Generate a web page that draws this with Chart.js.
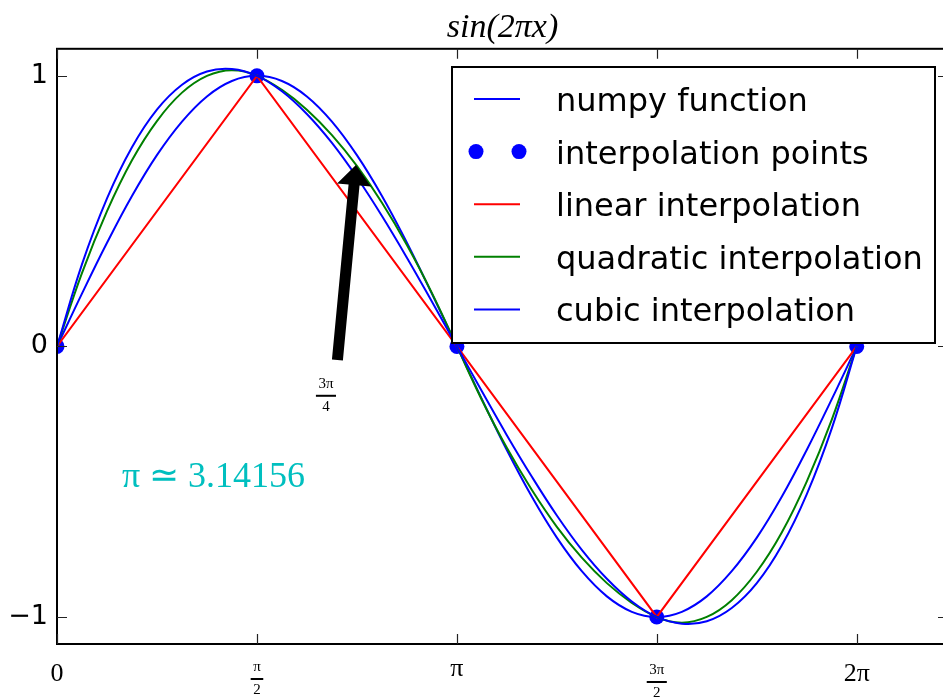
<!DOCTYPE html>
<html>
<head>
<meta charset="utf-8">
<script src="https://cdn.jsdelivr.net/npm/chart.js@4.4.0/dist/chart.umd.min.js"></script>
<style>
  html, body { margin: 0; padding: 0; background: #fff; overflow: hidden; }
  #wrap { width: 948px; height: 698px; position: relative; }
</style>
</head>
<body>
<div id="wrap"><canvas id="grafico" width="948" height="698"></canvas></div>
<script>
//CURVE SAMPLES (x in radians, read every pi/16)
const xCurve = [0, 0.196, 0.393, 0.589, 0.785, 0.982, 1.178, 1.374, 1.571, 1.767, 1.963, 2.160, 2.356, 2.553, 2.749, 2.945,
  3.142, 3.338, 3.534, 3.731, 3.927, 4.123, 4.320, 4.516, 4.712, 4.909, 5.105, 5.301, 5.498, 5.694, 5.890, 6.087, 6.283];
const yNumpy = [0, 0.195, 0.383, 0.556, 0.707, 0.831, 0.924, 0.981, 1, 0.981, 0.924, 0.831, 0.707, 0.556, 0.383, 0.195,
  0, -0.195, -0.383, -0.556, -0.707, -0.831, -0.924, -0.981, -1, -0.981, -0.924, -0.831, -0.707, -0.556, -0.383, -0.195, 0];
const yQuadratic = [0, 0.271, 0.5, 0.688, 0.833, 0.938, 1.0, 1.021, 1, 0.948, 0.875, 0.781, 0.667, 0.531, 0.375, 0.198,
  0, -0.198, -0.375, -0.531, -0.667, -0.781, -0.875, -0.948, -1, -1.021, -1.0, -0.938, -0.833, -0.688, -0.5, -0.271, 0];
const yCubic = [0, 0.303, 0.547, 0.736, 0.875, 0.967, 1.016, 1.025, 1, 0.943, 0.859, 0.752, 0.625, 0.482, 0.328, 0.166,
  0, -0.166, -0.328, -0.482, -0.625, -0.752, -0.859, -0.943, -1, -1.025, -1.016, -0.967, -0.875, -0.736, -0.547, -0.303, 0];

//INTERPOLATION POINTS
const xPoints = [0, 1.571, 3.142, 4.712, 6.283];
const yPoints = [0, 1, 0, -1, 0];

//NAMES AND TICKS
const seriesNames = ["numpy function", "interpolation points", "linear interpolation", "quadratic interpolation", "cubic interpolation"];
const xTickValues = [0, 1.571, 3.142, 4.712, 6.283];
const xTickLabels = ["0", "π/2", "π", "3π/2", "2π"];
const yTickValues = [-1, 0, 1];
const yTickLabels = ["−1", "0", "1"];
const chartTitle = "sin(2πx)";
const piText = "π ≃ 3.14156";
const arrowLabel = "3π/4";

let toXY = (xs, ys) => xs.map((x, i) => ({ x: x, y: ys[i] }));

//DRAWS A LABEL, FRACTIONS AS num / bar / den, TOP ALIGNED
function drawMathLabel(ctx, label, cx, top, bigFont, smallFont) {
  ctx.textAlign = "center";
  ctx.textBaseline = "alphabetic";
  if (label.indexOf("/") >= 0) {
    let parts = label.split("/");
    ctx.font = smallFont;
    let mNum = ctx.measureText(parts[0]);
    let mDen = ctx.measureText(parts[1]);
    let numBase = top + mNum.actualBoundingBoxAscent;
    ctx.fillText(parts[0], cx, numBase);
    let barY = numBase + 8;
    let barW = Math.max(mNum.width, mDen.width) + 5;
    ctx.fillRect(cx - barW / 2, barY - 1, barW, 2);
    ctx.fillText(parts[1], cx, barY + 5 + mDen.actualBoundingBoxAscent);
  } else {
    ctx.font = bigFont;
    let m = ctx.measureText(label);
    ctx.fillText(label, cx, top + m.actualBoundingBoxAscent);
  }
}

const extras = {
  id: "extras",
  afterDraw(chart) {
    let ctx = chart.ctx;
    let area = chart.chartArea;
    let xs = chart.scales.x;
    let ys = chart.scales.y;
    ctx.save();

    //ARROW
    let tip = { x: xs.getPixelForValue(2.356), y: ys.getPixelForValue(0.707) };
    let tail = { x: xs.getPixelForValue(2.203), y: ys.getPixelForValue(-0.05) };
    let dx = tip.x - tail.x, dy = tip.y - tail.y;
    let len = Math.sqrt(dx * dx + dy * dy);
    let ux = dx / len, uy = dy / len;
    let px = -uy, py = ux;
    let end = { x: tip.x - ux * 10, y: tip.y - uy * 10 };
    let base = { x: end.x - ux * 20, y: end.y - uy * 20 };
    ctx.fillStyle = "#000";
    ctx.beginPath();
    ctx.moveTo(tail.x + px * 5.5, tail.y + py * 5.5);
    ctx.lineTo(base.x + px * 5.5, base.y + py * 5.5);
    ctx.lineTo(base.x + px * 17, base.y + py * 17);
    ctx.lineTo(end.x, end.y);
    ctx.lineTo(base.x - px * 17, base.y - py * 17);
    ctx.lineTo(base.x - px * 5.5, base.y - py * 5.5);
    ctx.lineTo(tail.x - px * 5.5, tail.y - py * 5.5);
    ctx.closePath();
    ctx.fill();
    drawMathLabel(ctx, arrowLabel, xs.getPixelForValue(2.113), ys.getPixelForValue(-0.116),
      "15px 'Liberation Serif'", "15px 'Liberation Serif'");

    //PI TEXT
    ctx.fillStyle = "#00BFBF";
    ctx.font = "36px 'Liberation Serif'";
    ctx.textAlign = "left";
    ctx.textBaseline = "alphabetic";
    ctx.fillText(piText, xs.getPixelForValue(0.51), ys.getPixelForValue(-0.52));

    //FRAME
    ctx.strokeStyle = "#000";
    ctx.lineWidth = 2;
    ctx.strokeRect(area.left, area.top, area.right - area.left, area.bottom - area.top);

    //INSIDE TICKS
    ctx.lineWidth = 1.2;
    ctx.strokeStyle = "#222";
    ctx.beginPath();
    xTickValues.forEach((v) => {
      let x = Math.round(xs.getPixelForValue(v)) + 0.5;
      ctx.moveTo(x, area.bottom); ctx.lineTo(x, area.bottom - 10);
      ctx.moveTo(x, area.top); ctx.lineTo(x, area.top + 10);
    });
    yTickValues.forEach((v) => {
      let y = Math.round(ys.getPixelForValue(v)) + 0.5;
      ctx.moveTo(area.left, y); ctx.lineTo(area.left + 10, y);
      ctx.moveTo(area.right, y); ctx.lineTo(area.right - 10, y);
    });
    ctx.stroke();

    //X TICK LABELS
    ctx.fillStyle = "#000";
    xTickValues.forEach((v, i) => {
      drawMathLabel(ctx, xTickLabels[i], xs.getPixelForValue(v), area.bottom + 20,
        "26px 'Liberation Serif'", "15px 'Liberation Serif'");
    });

    //LEGEND
    let lx = 452, ly = 67, lw = 483, lh = 276;
    ctx.fillStyle = "#fff";
    ctx.fillRect(lx, ly, lw, lh);
    ctx.strokeStyle = "#000";
    ctx.lineWidth = 2;
    ctx.strokeRect(lx, ly, lw, lh);
    chart.data.datasets.forEach((ds, i) => {
      let baseY = ly + 44 + i * 52.6;
      let midY = baseY - 12;
      if (ds.showLine === false) {
        ctx.fillStyle = ds.backgroundColor;
        [476, 519].forEach((cx) => {
          ctx.beginPath();
          ctx.arc(cx, midY, 7.5, 0, Math.PI * 2);
          ctx.fill();
        });
      } else {
        ctx.strokeStyle = ds.borderColor;
        ctx.lineWidth = 2;
        ctx.beginPath();
        ctx.moveTo(474, midY);
        ctx.lineTo(520, midY);
        ctx.stroke();
      }
      ctx.fillStyle = "#000";
      ctx.font = "32px 'DejaVu Sans'";
      ctx.textAlign = "left";
      ctx.textBaseline = "alphabetic";
      ctx.fillText(ds.label, 556, baseY);
    });
    ctx.restore();
  },
};

//GRAFICO
let chart = new Chart(document.getElementById("grafico"), {
  type: "line",
  data: {
    datasets: [
      { label: seriesNames[0], data: toXY(xCurve, yNumpy), borderColor: "#0000FF", borderWidth: 2, pointRadius: 0, tension: 0.4, clip: 0, order: 5 },
      { label: seriesNames[1], data: toXY(xPoints, yPoints), showLine: false, backgroundColor: "#0000FF", borderColor: "#0000FF",
        pointRadius: 7.5, pointBorderWidth: 0, clip: 0, order: 4 },
      { label: seriesNames[2], data: toXY(xPoints, yPoints), borderColor: "#FF0000", borderWidth: 2, pointRadius: 0, tension: 0, clip: 0, order: 3 },
      { label: seriesNames[3], data: toXY(xCurve, yQuadratic), borderColor: "#008000", borderWidth: 2, pointRadius: 0, tension: 0.4, clip: 0, order: 2 },
      { label: seriesNames[4], data: toXY(xCurve, yCubic), borderColor: "#0000FF", borderWidth: 2, pointRadius: 0, tension: 0.4, clip: 0, order: 1 },
    ],
  },
  options: {
    responsive: false,
    animation: false,
    layout: { autoPadding: false, padding: { top: 0, right: 0, bottom: 54, left: 0 } },
    scales: {
      x: { type: "linear", min: 0, max: 7, display: false },
      y: {
        type: "linear",
        min: -1.1,
        max: 1.1,
        afterBuildTicks: (s) => { s.ticks = yTickValues.map((v) => ({ value: v })); },
        afterFit: (s) => { s.width = 57; },
        grid: { display: false, drawTicks: false },
        border: { display: false },
        ticks: {
          padding: 9,
          color: "#000",
          font: { family: "'DejaVu Sans'", size: 27 },
          callback: (v) => yTickLabels[yTickValues.indexOf(v)],
        },
      },
    },
    plugins: {
      legend: { display: false },
      tooltip: { enabled: false },
      title: {
        display: true,
        fullSize: false,
        text: chartTitle,
        color: "#000",
        font: { family: "'Liberation Serif'", style: "italic", weight: "normal", size: 34 },
        padding: { top: 8, bottom: 0 },
      },
    },
  },
  plugins: [extras],
});
</script>
</body>
</html>
